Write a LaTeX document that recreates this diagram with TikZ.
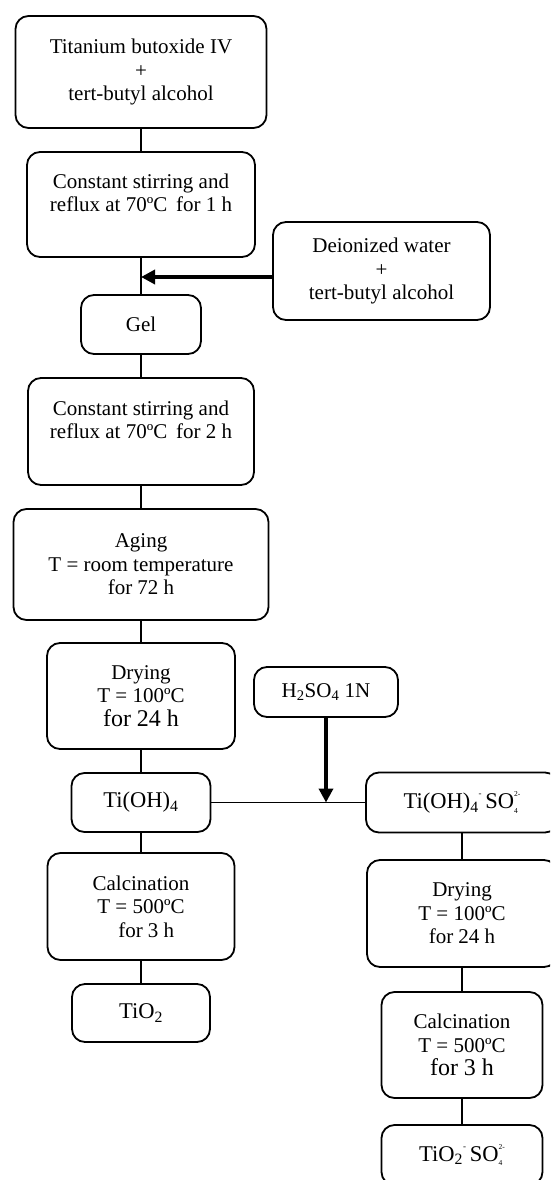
\documentclass[tikz,border=0pt]{standalone}
\usepackage{fontspec}
\setmainfont{Liberation Serif}
\usetikzlibrary{arrows.meta}
\newcommand\SubSup[2]{\makebox[0pt][l]{\raisebox{-0.2em}{\fontsize{7.5}{7.5}\selectfont #1}}\raisebox{0.55em}{\fontsize{7.5}{7.5}\selectfont #2}}
\newcommand\TinySup[1]{\raisebox{0.55em}{\fontsize{9}{9}\selectfont #1}}
\tikzset{
  box/.style={draw, line width=1.8pt, rounded corners=13pt, align=center, inner sep=0pt,
    font=\fontsize{21}{23.5}\selectfont},
  link/.style={line width=1.6pt},
  feed/.style={line width=3.8pt, -{Triangle[length=14pt,width=14pt]}},
  big/.style={font=\fontsize{22.5}{24}\selectfont},
}
\begin{document}
\begin{tikzpicture}[x=1pt,y=-1pt]
\useasboundingbox (0,0) rectangle (550,1180);
\clip (0,0) rectangle (550,1180);
% left column
\node[box, minimum width=251pt, minimum height=112pt] (b1) at (141,72) {Titanium butoxide IV\\+\\tert-butyl alcohol};
\node[box, minimum width=228pt, minimum height=105pt] (b2) at (141,204.5) {Constant stirring and\\reflux at 70ºC\, for 1 h\\\mbox{}};
\node[box, minimum width=217pt, minimum height=98pt] (dw) at (381.5,271) {Deionized water\\+\\tert-butyl alcohol};
\node[box, minimum width=120pt, minimum height=59pt] (gel) at (141,324.5) {Gel};
\node[box, minimum width=226pt, minimum height=107pt] (b4) at (141,431.5) {Constant stirring and\\reflux at 70ºC\, for 2 h\\\mbox{}};
\node[box, minimum width=255pt, minimum height=111pt] (age) at (141,564.5) {Aging\\T = room temperature\\for 72 h};
\node[box, minimum width=188pt, minimum height=106pt] (dry) at (141,696) {Drying\\T = 100ºC\\{\fontsize{24}{24}\selectfont for 24 h}};
\node[box, minimum width=144pt, minimum height=50pt] (h) at (326,692) {H\textsubscript{2}SO\textsubscript{4} 1N};
\node[box, big, minimum width=139pt, minimum height=59pt] (ti) at (141,802.5) {Ti(OH)\textsubscript{4}};
\node[box, big, minimum width=192pt, minimum height=60pt] (tis) at (462,802.5) {Ti(OH)\textsubscript{4}\TinySup{-}\,SO\SubSup{4}{2-}};
\node[box, minimum width=187pt, minimum height=107pt] (cal) at (141,906.5) {Calcination\\T = 500ºC\\\ \ for 3 h};
\node[box, big, minimum width=138pt, minimum height=58pt] (tio) at (141,1013) {TiO\textsubscript{2}};
% right column
\node[box, minimum width=190pt, minimum height=107pt] (dry2) at (462,913.5) {Drying\\T = 100ºC\\for 24 h};
\node[box, minimum width=161pt, minimum height=106pt] (cal2) at (462,1045) {Calcination\\T = 500ºC\\{\fontsize{24}{24}\selectfont for 3 h}};
\node[box, big, minimum width=161pt, minimum height=60pt] (tios) at (462,1155) {TiO\textsubscript{2}\TinySup{-}\,SO\SubSup{4}{2-}};
% connectors
\draw[link] (b1.south) -- (b2.north);
\draw[link] (b2.south) -- (gel.north);
\draw[link] (gel.south) -- (b4.north);
\draw[link] (b4.south) -- (age.north);
\draw[link] (age.south) -- (dry.north);
\draw[link] (dry.south) -- (ti.north);
\draw[link] (ti.south) -- (cal.north);
\draw[link] (cal.south) -- (tio.north);
\draw[link] (ti.east) -- (tis.west);
\draw[link] (tis.south) -- (dry2.north);
\draw[link] (dry2.south) -- (cal2.north);
\draw[link] (cal2.south) -- (tios.north);
\coordinate (fa) at ([yshift=-6pt]dw.west);
\draw[feed] (fa) -- (fa -| b2.south);
\draw[feed] (h.south) -- (h.south |- ti.east);
\end{tikzpicture}
\end{document}
